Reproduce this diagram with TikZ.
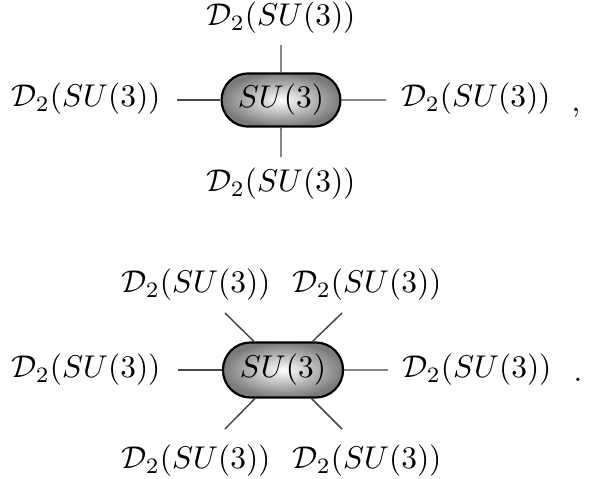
\documentclass[tikz,border=0pt]{standalone}
\usetikzlibrary{shapes.misc}
\begin{document}
\begin{tikzpicture}[x=0.318pt,y=-0.318pt,
  caps/.style={rounded rectangle, draw=black, line width=0.7pt,
    shading=radial, inner color=white, outer color=black!52,
    minimum width=37.8pt, minimum height=16.9pt, inner sep=0pt},
  leg/.style={draw=black!72, line width=0.47pt},
  lab/.style={inner sep=0pt}]
\useasboundingbox (0,0) rectangle (592,479);
% ---- first diagram
\node[caps] (c1) at (281,100) {$SU(3)$};
\node[lab] (t1) at (281,18) {$\mathcal{D}_2(SU(3))$};
\node[lab] (b1) at (281,184) {$\mathcal{D}_2(SU(3))$};
\node[lab] (l1) at (86,99) {$\mathcal{D}_2(SU(3))$};
\node[lab] (r1) at (476,99) {$\mathcal{D}_2(SU(3))$};
\node[lab, anchor=base] (comma) at (576,111) {,};
\coordinate (t1e) at (281,45);
\coordinate (b1e) at (281,157);
\coordinate (l1e) at (177,100);
\coordinate (r1e) at (386,100);
\draw[leg] (t1e) -- (c1);
\draw[leg] (b1e) -- (c1);
\draw[leg] (l1e) -- (c1);
\draw[leg] (r1e) -- (c1);
% ---- second diagram
\node[caps, minimum width=38.2pt, minimum height=17.5pt] (c2) at (283,370) {$SU(3)$};
\node[lab] (ul) at (196,285) {$\mathcal{D}_2(SU(3))$};
\node[lab] (ur) at (367,285) {$\mathcal{D}_2(SU(3))$};
\node[lab] (l2) at (86,370) {$\mathcal{D}_2(SU(3))$};
\node[lab] (r2) at (477,370) {$\mathcal{D}_2(SU(3))$};
\node[lab] (ll) at (196,461) {$\mathcal{D}_2(SU(3))$};
\node[lab] (lr) at (367,461) {$\mathcal{D}_2(SU(3))$};
\node[lab, anchor=base] (dot) at (578,381) {.};
\coordinate (ule) at (225,313);
\coordinate (ure) at (342,313);
\coordinate (lle) at (225,429);
\coordinate (lre) at (342,429);
\coordinate (l2e) at (178,370);
\coordinate (r2e) at (388,370);
\draw[leg] (ule) -- (c2);
\draw[leg] (ure) -- (c2);
\draw[leg] (lle) -- (c2);
\draw[leg] (lre) -- (c2);
\draw[leg] (l2e) -- (c2);
\draw[leg] (r2e) -- (c2);
\end{tikzpicture}
\end{document}
